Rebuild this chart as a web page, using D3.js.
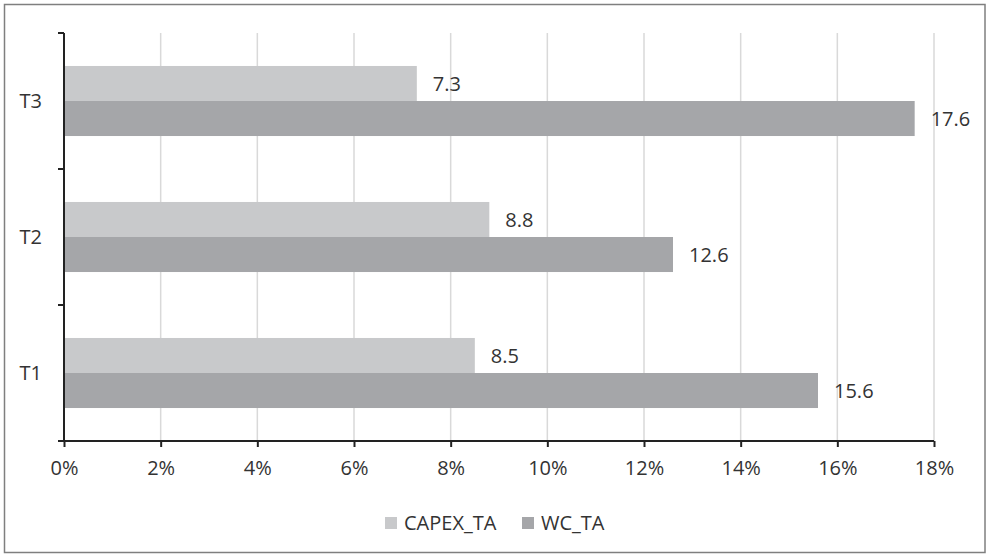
<!DOCTYPE html>
<html>
<head>
<meta charset="utf-8">
<script src="https://cdn.jsdelivr.net/npm/d3@7"></script>
<style>
  html, body { margin: 0; padding: 0; background: #fff; }
  svg { display: block; }
  text { font-family: "Open Sans", "Liberation Sans", sans-serif; fill: #333; }
</style>
</head>
<body>
<svg id="chart" width="989" height="555"></svg>
<script>
// Categories, top to bottom
const categories = ["T3", "T2", "T1"];
// Series (values in percent)
const seriesNames = ["CAPEX_TA", "WC_TA"];
const capexTA = [7.3, 8.8, 8.5];
const wcTA = [17.6, 12.6, 15.6];
const xTicks = [0, 2, 4, 6, 8, 10, 12, 14, 16, 18];
const seriesColors = ["#c8c9cb", "#a5a6a9"];

const rows = categories.map((c, i) => ({ cat: c, values: [capexTA[i], wcTA[i]] }));

const svg = d3.select("#chart");
const plotLeft = 64, plotRight = 934, plotTop = 33, plotBottom = 441;

// Outer frame
svg.append("rect")
  .attr("x", 4.5).attr("y", 4.5)
  .attr("width", 980.5).attr("height", 548)
  .attr("fill", "#fff").attr("stroke", "#7f7f7f").attr("stroke-width", 1.5);

const x = d3.scaleLinear().domain([0, 18]).range([plotLeft, plotRight]);
const y = d3.scaleBand().domain(categories).range([plotTop, plotBottom])
  .paddingInner(0.485).paddingOuter(0.2425);
const ySeries = d3.scaleBand().domain(seriesNames).range([0, y.bandwidth()]);

// Vertical gridlines
svg.append("g")
  .selectAll("line")
  .data(xTicks.filter(d => d > 0))
  .join("line")
  .attr("x1", d => x(d)).attr("x2", d => x(d))
  .attr("y1", plotTop).attr("y2", plotBottom)
  .attr("stroke", "#d9d9d9").attr("stroke-width", 1.5);

// Bars
const groups = svg.append("g")
  .selectAll("g")
  .data(rows)
  .join("g")
  .attr("transform", d => `translate(0,${y(d.cat)})`);

groups.selectAll("rect")
  .data(d => d.values.map((v, i) => ({ name: seriesNames[i], v, i })))
  .join("rect")
  .attr("x", x(0))
  .attr("y", d => ySeries(d.name))
  .attr("width", d => x(d.v) - x(0))
  .attr("height", ySeries.bandwidth())
  .attr("fill", d => seriesColors[d.i]);

// Value labels
groups.selectAll("text")
  .data(d => d.values.map((v, i) => ({ name: seriesNames[i], v, i })))
  .join("text")
  .attr("x", d => x(d.v) + 16)
  .attr("y", d => ySeries(d.name) + ySeries.bandwidth() / 2)
  .attr("dy", "0.36em")
  .attr("font-size", 20)
  .text(d => d.v.toFixed(1));

// X axis
const xAxis = d3.axisBottom(x).tickValues(xTicks).tickFormat(d => d + "%")
  .tickSizeInner(6).tickSizeOuter(0).tickPadding(14);
const gx = svg.append("g").attr("transform", `translate(0,${plotBottom})`).call(xAxis);
gx.select(".domain").attr("stroke", "#222").attr("stroke-width", 2)
  .attr("d", `M${plotLeft - 6},0H${plotRight}`);
gx.selectAll(".tick line").attr("stroke", "#222").attr("stroke-width", 2);
gx.selectAll(".tick text").attr("font-size", 20).attr("fill", "#333")
  .attr("font-family", "'Open Sans', 'Liberation Sans', sans-serif");

// Y axis: line with ticks at category boundaries
const gy = svg.append("g");
gy.append("line")
  .attr("x1", plotLeft).attr("x2", plotLeft).attr("y1", plotTop).attr("y2", plotBottom)
  .attr("stroke", "#222").attr("stroke-width", 2);
const boundaries = categories.map(c => y(c) - y.step() * y.paddingInner() / 2);
gy.selectAll("line.tk")
  .data(boundaries)
  .join("line").attr("class", "tk")
  .attr("x1", plotLeft - 6).attr("x2", plotLeft)
  .attr("y1", d => d).attr("y2", d => d)
  .attr("stroke", "#222").attr("stroke-width", 2);
gy.selectAll("text")
  .data(categories)
  .join("text")
  .attr("x", plotLeft - 22)
  .attr("y", d => y(d) + y.bandwidth() / 2)
  .attr("dy", "0.36em")
  .attr("text-anchor", "end")
  .attr("font-size", 20)
  .text(d => d);

// Legend
const legendItems = [
  { name: seriesNames[0], color: seriesColors[0], x: 385 },
  { name: seriesNames[1], color: seriesColors[1], x: 522 }
];
const lg = svg.append("g").selectAll("g").data(legendItems).join("g")
  .attr("transform", d => `translate(${d.x},517)`);
lg.append("rect").attr("width", 12).attr("height", 12).attr("fill", d => d.color);
lg.append("text").attr("x", 19).attr("y", 6).attr("dy", "0.36em")
  .attr("font-size", 20).text(d => d.name);
</script>
</body>
</html>
